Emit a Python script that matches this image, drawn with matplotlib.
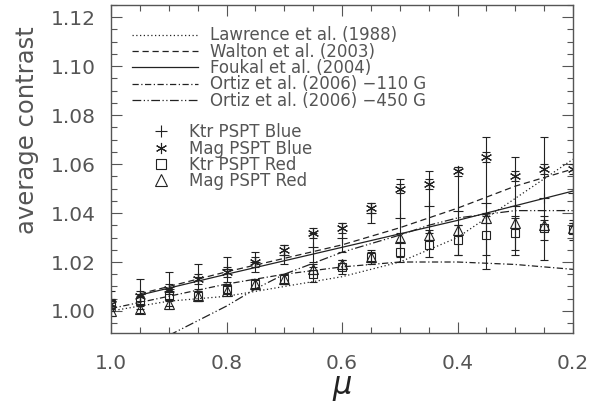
import matplotlib
matplotlib.use("Agg")
import matplotlib.pyplot as plt
from matplotlib.lines import Line2D
from matplotlib.ticker import MultipleLocator

# disk positions of the measurements
mu = [1.0, 0.95, 0.9, 0.85, 0.8, 0.75, 0.7, 0.65, 0.6, 0.55,
      0.5, 0.45, 0.4, 0.35, 0.3, 0.25, 0.2]

ktr_blue = [1.004, 1.007, 1.009, 1.014, 1.017, 1.020, 1.023, 1.026, 1.030, 1.040,
            1.038, 1.043, 1.041, 1.044, 1.043, 1.046, 1.048]
ktr_blue_err = [0.004, 0.006, 0.007, 0.005, 0.005, 0.004, 0.004, 0.006, 0.006, 0.004,
                0.016, 0.014, 0.018, 0.027, 0.020, 0.025, 0.012]
mag_blue = [1.003, 1.006, 1.009, 1.013, 1.016, 1.020, 1.025, 1.032, 1.034, 1.042,
            1.050, 1.052, 1.057, 1.063, 1.055, 1.058, 1.058]
ktr_red = [1.003, 1.004, 1.006, 1.006, 1.009, 1.011, 1.013, 1.015, 1.018, 1.022,
           1.024, 1.027, 1.029, 1.031, 1.032, 1.034, 1.033]
ktr_red_err = [0.002, 0.002, 0.002, 0.002, 0.002, 0.002, 0.002, 0.003, 0.003, 0.003,
               0.004, 0.005, 0.006, 0.008, 0.007, 0.005, 0.004]
mag_red = [1.000, 1.001, 1.003, 1.006, 1.008, 1.011, 1.013, 1.017, 1.019, 1.022,
           1.030, 1.031, 1.033, 1.038, 1.036, 1.035, 1.034]

# published center-to-limb curves
lawrence_mu = [1.0, 0.9, 0.8, 0.7, 0.6, 0.5, 0.4, 0.3, 0.25, 0.2]
lawrence = [1.000, 1.004, 1.006, 1.010, 1.014, 1.020, 1.030, 1.046, 1.054, 1.062]
walton_mu = [0.95, 0.8, 0.6, 0.5, 0.4, 0.3, 0.2]
walton = [1.007, 1.016, 1.027, 1.034, 1.042, 1.051, 1.058]
foukal_mu = [0.95, 0.8, 0.6, 0.4, 0.2]
foukal = [1.0065, 1.015, 1.026, 1.037, 1.049]
ortiz110_mu = [1.0, 0.9, 0.8, 0.7, 0.6, 0.5, 0.4, 0.3, 0.2]
ortiz110 = [1.001, 1.006, 1.011, 1.015, 1.018, 1.020, 1.020, 1.019, 1.017]
ortiz450_mu = [0.9, 0.8, 0.75, 0.7, 0.6, 0.5, 0.45, 0.4, 0.3, 0.2]
ortiz450 = [0.990, 1.002, 1.009, 1.015, 1.024, 1.031, 1.035, 1.038, 1.041, 1.041]

curve_labels = ["Lawrence et al. (1988)", "Walton et al. (2003)", "Foukal et al. (2004)",
                "Ortiz et al. (2006) \u2212110 G", "Ortiz et al. (2006) \u2212450 G"]
data_labels = ["Ktr PSPT Blue", "Mag PSPT Blue", "Ktr PSPT Red", "Mag PSPT Red"]

ink = "#222222"
txt = "#555555"
asterisk = (6, 2, 0)

fig = plt.figure(figsize=(5.93, 4.03), dpi=100)
ax = fig.add_axes([0.1872, 0.1737, 0.7791, 0.8139])

lw = 0.9
h1, = ax.plot(lawrence_mu, lawrence, ls=(0, (1, 2)), color=ink, lw=lw)
h2, = ax.plot(walton_mu, walton, ls=(0, (5, 3)), color=ink, lw=lw)
h3, = ax.plot(foukal_mu, foukal, ls="-", color=ink, lw=lw)
h4, = ax.plot(ortiz110_mu, ortiz110, ls=(0, (5, 2, 1, 2)), color=ink, lw=lw)
h5, = ax.plot(ortiz450_mu, ortiz450, ls=(0, (7, 2, 1, 2, 1, 2)), color=ink, lw=lw)

eb = dict(ecolor=ink, elinewidth=0.8, capsize=3, capthick=0.8, ls="none")
ax.errorbar(mu, ktr_blue, yerr=ktr_blue_err, fmt="+", color=ink, ms=7, mew=0.8, **eb)
ax.errorbar(mu, mag_blue, yerr=0.002, fmt="none", **eb)
ax.plot(mu, mag_blue, ls="none", marker=asterisk, color=ink, ms=8, mew=0.8)
ax.errorbar(mu, ktr_red, yerr=ktr_red_err, fmt="s", mfc="none", color=ink, ms=6, mew=0.8, **eb)
ax.errorbar(mu, mag_red, yerr=0.002, fmt="^", mfc="none", color=ink, ms=7, mew=0.8, **eb)

ax.set_xlim(1.0, 0.2)
ax.set_ylim(0.991, 1.125)
ax.xaxis.set_major_locator(MultipleLocator(0.2))
ax.xaxis.set_minor_locator(MultipleLocator(0.05))
ax.yaxis.set_major_locator(MultipleLocator(0.02))
ax.yaxis.set_minor_locator(MultipleLocator(0.005))
ax.xaxis.set_major_formatter(plt.FormatStrFormatter("%.1f"))
ax.yaxis.set_major_formatter(plt.FormatStrFormatter("%.2f"))
ax.tick_params(which="both", direction="in", top=True, right=True, color="#555555",
               labelcolor=txt, labelsize=14.5, width=0.8)
ax.tick_params(which="major", length=8)
ax.tick_params(which="minor", length=4)
ax.tick_params(axis="x", which="major", pad=15)
ax.tick_params(axis="y", which="major", pad=11)
for s in ax.spines.values():
    s.set_color("#555555")
    s.set_linewidth(1.0)

ax.set_ylabel("average contrast", fontsize=17.5, color=txt)
ax.yaxis.set_label_coords(-0.155, 0.62)
ax.set_xlabel(r"$\mu$", fontsize=22, color=ink, labelpad=1)

leg1 = ax.legend([h1, h2, h3, h4, h5], curve_labels,
                 loc="upper left", bbox_to_anchor=(0.03, 0.955), frameon=False,
                 fontsize=12, handlelength=4.0, handletextpad=0.7, labelspacing=-0.1,
                 borderaxespad=0, labelcolor=txt)
ax.add_artist(leg1)
keys = [Line2D([], [], ls="none", marker="+", color=ink, ms=8, mew=0.8),
        Line2D([], [], ls="none", marker=asterisk, color=ink, ms=8, mew=0.8),
        Line2D([], [], ls="none", marker="s", mfc="none", color=ink, ms=7, mew=0.8),
        Line2D([], [], ls="none", marker="^", mfc="none", color=ink, ms=8, mew=0.8)]
ax.legend(keys, data_labels,
          loc="upper left", bbox_to_anchor=(0.075, 0.66), frameon=False,
          fontsize=12, handlelength=1.0, handletextpad=1.2, labelspacing=-0.1,
          borderaxespad=0, labelcolor=txt)

fig.savefig("out.png", dpi=100)
